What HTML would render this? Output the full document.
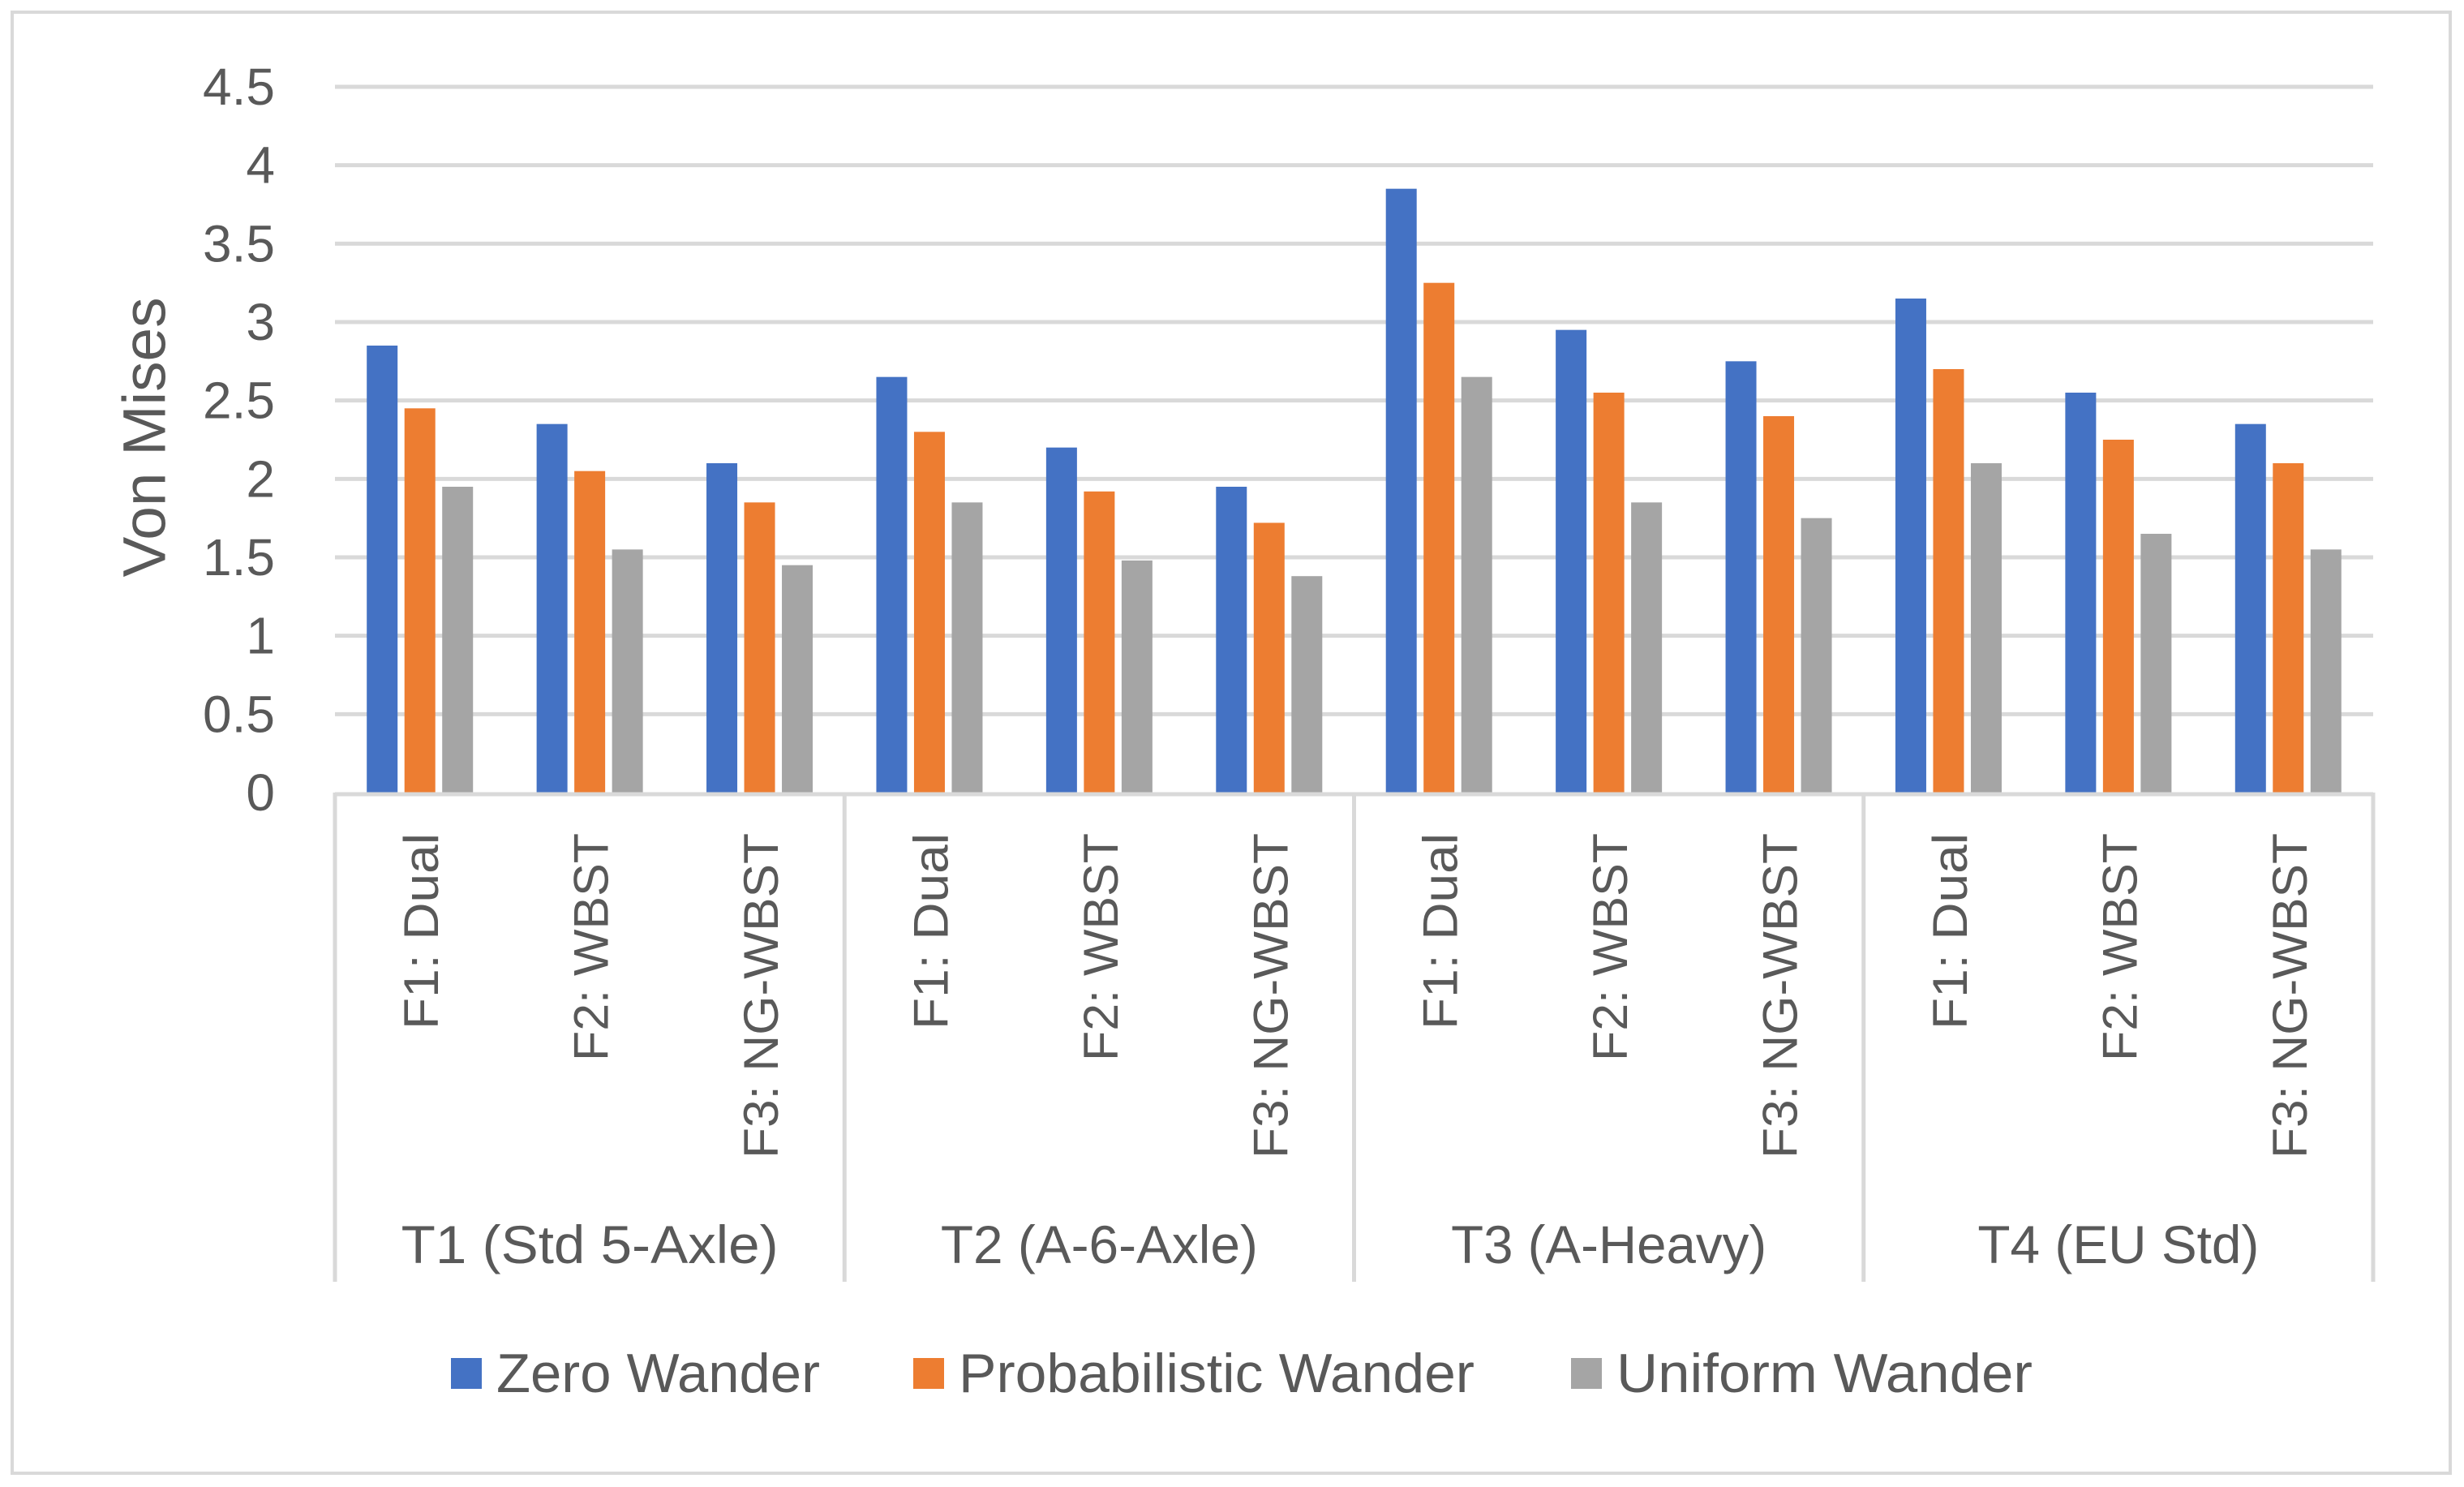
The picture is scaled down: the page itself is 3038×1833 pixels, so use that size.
<!DOCTYPE html>
<html><head><meta charset="utf-8"><style>
html,body{margin:0;padding:0;background:#fff;}
svg{display:block;}
text{font-family:"Liberation Sans",sans-serif;fill:#595959;}
</style></head><body>
<svg id="chart" width="3038" height="1833" viewBox="0 0 3038 1833" xmlns="http://www.w3.org/2000/svg">
<rect x="15" y="15" width="3006" height="1801" fill="#fff" stroke="#d9d9d9" stroke-width="4"/>
<g id="grid"></g><g id="bars"></g><g id="axes"></g><g id="legend"></g>
</svg>
<script>
const groups = ["T1 (Std 5-Axle)", "T2 (A-6-Axle)", "T3 (A-Heavy)", "T4 (EU Std)"];
const categories = ["F1: Dual", "F2: WBST", "F3: NG-WBST"];
const seriesNames = ["Zero Wander", "Probabilistic Wander", "Uniform Wander"];
const zeroWander = [2.85, 2.35, 2.1, 2.65, 2.2, 1.95, 3.85, 2.95, 2.75, 3.15, 2.55, 2.35];
const probWander = [2.45, 2.05, 1.85, 2.3, 1.92, 1.72, 3.25, 2.55, 2.4, 2.7, 2.25, 2.1];
const uniformWander = [1.95, 1.55, 1.45, 1.85, 1.48, 1.38, 2.65, 1.85, 1.75, 2.1, 1.65, 1.55];
const yTicks = [0, 0.5, 1, 1.5, 2, 2.5, 3, 3.5, 4, 4.5];

const NS = "http://www.w3.org/2000/svg";
const colors = ["#4472c4", "#ed7d31", "#a5a5a5"];
const catLen = [242, 281, 401];
const groupLen = [465, 391, 389, 347];
const legLen = [399, 636, 513];
const X0 = 413, X1 = 2926, Y0 = 977, Ymax = 4.5, Ytop = 107;
const nCats = groups.length * categories.length;
const catW = (X1 - X0) / nCats;
const y = v => Y0 - (v / Ymax) * (Y0 - Ytop);
const xc = i => X0 + catW * (i + 0.5);
function mk(tag, attrs, parent, txt) {
  const e = document.createElementNS(NS, tag);
  for (const k in attrs) e.setAttribute(k, attrs[k]);
  if (txt !== undefined) e.textContent = txt;
  parent.appendChild(e);
  return e;
}
const grid = document.getElementById('grid');
const bars = document.getElementById('bars');
const axes = document.getElementById('axes');
const legend = document.getElementById('legend');

yTicks.forEach(t => {
  if (t > 0) {
    const l = mk('line', {x1: X0, x2: X1, y1: y(t), y2: y(t), stroke: '#d9d9d9', 'stroke-width': 5}, grid);
    
    
  }
  const tx = mk('text', {x: 339, y: y(t), 'text-anchor': 'end', 'dominant-baseline': 'central', 'font-size': 64}, axes, String(t));
  
  
});

const series = [zeroWander, probWander, uniformWander];
const bw = 38, step = 46.5;
series.forEach((vals, s) => {
  vals.forEach((v, i) => {
    const cx = xc(i) + (s - 1) * step;
    const r = mk('rect', {x: cx - bw / 2, y: y(v), width: bw, height: Y0 - y(v), fill: colors[s]}, bars);
    
    
  });
});

const ax = mk('line', {x1: X0, x2: X1, y1: Y0 + 2, y2: Y0 + 2, stroke: '#d9d9d9', 'stroke-width': 5}, axes);


for (let g = 0; g <= groups.length; g++) {
  const gx = X0 + g * catW * categories.length;
  const d = mk('line', {x1: gx, x2: gx, y1: Y0, y2: 1580, stroke: '#d9d9d9', 'stroke-width': 5}, axes);
  
  
}
for (let i = 0; i < nCats; i++) {
  const k = i % categories.length;
  const cx = xc(i);
  const t = mk('text', {x: 0, y: 0, transform: `translate(${cx + 2},1027) rotate(-90)`, 'text-anchor': 'end', 'dominant-baseline': 'central', 'font-size': 60, textLength: catLen[k], lengthAdjust: 'spacingAndGlyphs'}, axes, categories[k]);
  
  
}
groups.forEach((g, gi) => {
  const cx = X0 + catW * categories.length * (gi + 0.5);
  const t = mk('text', {x: cx, y: 1534, 'text-anchor': 'middle', 'dominant-baseline': 'central', 'font-size': 66, textLength: groupLen[gi], lengthAdjust: 'spacingAndGlyphs'}, axes, g);
  
  
});
const yt = mk('text', {x: 0, y: 0, transform: 'translate(178,539) rotate(-90)', 'text-anchor': 'middle', 'dominant-baseline': 'central', 'font-size': 74, textLength: 345, lengthAdjust: 'spacingAndGlyphs'}, axes, 'Von Mises');



const legX = [556, 1126, 1937];
seriesNames.forEach((n, s) => {
  const sw = mk('rect', {x: legX[s], y: 1674, width: 38, height: 38, fill: colors[s]}, legend);
  
  
  const t = mk('text', {x: legX[s] + 56, y: 1693, 'dominant-baseline': 'central', 'font-size': 68, textLength: legLen[s], lengthAdjust: 'spacingAndGlyphs'}, legend, n);
  
  
});
</script>
</body></html>
